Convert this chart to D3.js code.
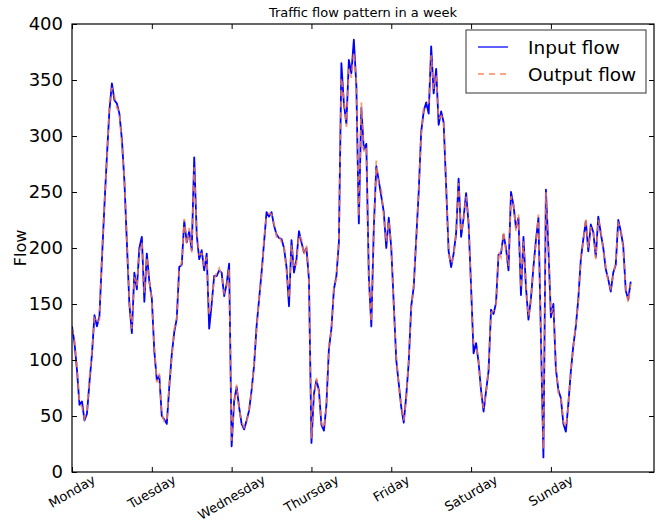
<!DOCTYPE html>
<html>
<head>
<meta charset="utf-8">
<script src="https://cdn.jsdelivr.net/npm/d3@7/dist/d3.min.js"></script>
<style>
  html, body { margin: 0; padding: 0; background: #fff; }
  svg { display: block; }
  text { font-family: "DejaVu Sans", sans-serif; fill: #000; }
</style>
</head>
<body>
<svg id="chart" width="665" height="524"></svg>
<script>
// Traffic flow over one week, one reading every 15 minutes (96 per day),
// stored here every third reading.
const stepsPerDay = 96;
const sampleStep = 3;
const days = ["Monday", "Tuesday", "Wednesday", "Thursday", "Friday", "Saturday", "Sunday"];
const yTicks = [0, 50, 100, 150, 200, 250, 300, 350, 400];

const inputFlow = [
  // Monday
  130, 115, 91, 60, 63, 46, 52, 80, 105, 140, 130, 139, 190, 238, 282, 323,
  347, 332, 329, 320, 297, 260, 205, 150, 124, 178, 163, 200, 210, 152, 195, 170,
  155, 108, 82, 86, 50, 47,
  // Tuesday
  43, 76, 105, 125, 137, 183, 185, 224, 205, 215, 198, 281, 212, 190, 198, 180,
  195, 128, 150, 175, 175, 180, 178, 157, 168, 186, 23, 63, 76, 58, 43, 38,
  46, 55, 73, 95, 130, 154, 178,
  // Wednesday
  205, 232, 228, 232, 220, 212, 209, 208, 200, 183, 148, 207, 178, 190, 215, 205,
  196, 200, 172, 26, 70, 82, 73, 42, 37, 60, 110, 128, 163, 175, 205, 365,
  329, 311, 368, 356, 386, 345,
  // Thursday
  222, 325, 288, 293, 175, 130, 218, 273, 260, 246, 232, 200, 227, 200, 150, 100,
  79, 58, 44, 68, 98, 148, 165, 208, 250, 304, 322, 330, 320, 380, 338, 360,
  310, 322, 312, 255, 197, 183,
  // Friday
  195, 213, 262, 210, 227, 249, 222, 165, 106, 115, 98, 73, 54, 72, 90, 145,
  141, 151, 194, 195, 212, 200, 180, 250, 238, 218, 227, 158, 210, 165, 136, 155,
  183, 207, 227, 120, 13, 252,
  // Saturday / Sunday
  200, 138, 150, 92, 73, 66, 43, 36, 61, 90, 113, 130, 155, 190, 208, 224,
  197, 221, 214, 192, 228, 213, 200, 181, 172, 161, 178, 185, 225, 215, 202, 162,
  154, 170
];

const outputFlow = [
  // Monday
  128, 118, 95, 62, 58, 48, 55, 84, 108, 137, 133, 136, 195, 240, 278, 330,
  343, 336, 325, 322, 292, 262, 208, 152, 128, 174, 166, 196, 205, 160, 192, 172,
  152, 112, 80, 88, 52, 45,
  // Tuesday
  45, 79, 102, 128, 135, 180, 188, 226, 203, 218, 196, 272, 216, 194, 195, 184,
  192, 140, 154, 172, 178, 182, 175, 160, 165, 182, 28, 60, 78, 56, 45, 40,
  44, 57, 70, 98, 127, 156, 175,
  // Wednesday
  208, 229, 231, 230, 222, 210, 212, 205, 202, 180, 155, 203, 182, 186, 212, 208,
  193, 203, 170, 30, 66, 84, 71, 44, 39, 57, 114, 125, 166, 172, 208, 352,
  333, 308, 360, 352, 375, 348,
  // Thursday
  228, 330, 285, 288, 170, 134, 214, 278, 256, 252, 228, 205, 224, 203, 146, 104,
  76, 60, 46, 65, 101, 145, 168, 205, 252, 300, 325, 328, 330, 372, 342, 355,
  315, 318, 315, 258, 194, 186,
  // Friday
  192, 216, 258, 214, 224, 246, 225, 162, 115, 112, 101, 70, 57, 70, 93, 142,
  144, 148, 197, 192, 215, 197, 184, 246, 241, 215, 230, 164, 206, 168, 139, 152,
  186, 204, 230, 125, 20, 250,
  // Saturday / Sunday
  203, 142, 147, 95, 70, 68, 45, 40, 58, 93, 110, 133, 152, 193, 205, 227,
  200, 218, 217, 190, 225, 216, 197, 184, 169, 164, 175, 188, 222, 218, 199, 165,
  151, 168
];

const svg = d3.select("#chart");
const margin = { left: 72, right: 11, top: 24, bottom: 52 };
const W = 665, H = 524;
const x0 = margin.left, x1 = W - margin.right;
const y0 = H - margin.bottom, y1 = margin.top;

const x = d3.scaleLinear().domain([0, 700]).range([x0, x1]);
const y = d3.scaleLinear().domain([0, 400]).range([y0, y1]);

const dayTicks = days.map((d, i) => i * stepsPerDay);

// clip the series to the plot area
svg.append("defs").append("clipPath").attr("id", "plotClip")
  .append("rect").attr("x", x0).attr("y", y1).attr("width", x1 - x0).attr("height", y0 - y1);

const line = d3.line()
  .x((d, i) => x(i * sampleStep))
  .y(d => y(d));

const plot = svg.append("g").attr("clip-path", "url(#plotClip)");

plot.append("path")
  .datum(inputFlow)
  .attr("fill", "none")
  .attr("stroke", "#0000ff")
  .attr("stroke-width", 1.8)
  .attr("stroke-linejoin", "round")
  .attr("d", line);

plot.append("path")
  .datum(outputFlow)
  .attr("fill", "none")
  .attr("stroke", "#ff7f50")
  .attr("stroke-opacity", 0.8)
  .attr("stroke-width", 1.8)
  .attr("stroke-dasharray", "6,5")
  .attr("d", line);

// Axes: ticks point inward on all four sides
const tickLen = 5;
const axisBottom = svg.append("g").attr("transform", `translate(0,${y0})`)
  .call(d3.axisBottom(x).tickValues(dayTicks).tickSize(-tickLen).tickFormat(""));
const axisTop = svg.append("g").attr("transform", `translate(0,${y1})`)
  .call(d3.axisTop(x).tickValues(dayTicks).tickSize(-tickLen).tickFormat(""));
const axisLeft = svg.append("g").attr("transform", `translate(${x0},0)`)
  .call(d3.axisLeft(y).tickValues(yTicks).tickSize(-tickLen).tickPadding(9).tickFormat(d3.format("d")));
const axisRight = svg.append("g").attr("transform", `translate(${x1},0)`)
  .call(d3.axisRight(y).tickValues(yTicks).tickSize(-tickLen).tickFormat(""));

[axisBottom, axisTop, axisLeft, axisRight].forEach(g => {
  g.select(".domain").remove();
  g.selectAll(".tick line").attr("stroke", "#000").attr("stroke-width", 1);
});
axisLeft.selectAll(".tick text")
  .attr("font-size", 18)
  .attr("font-family", "DejaVu Sans")
  .attr("fill", "#000");

// Rotated day labels: centred on the tick, top of the rotated box just below the axis
const labelSize = 13;
const labelTop = y0 + 1;
const angle = 30 * Math.PI / 180;
const dayLabels = svg.append("g").selectAll("text")
  .data(days)
  .join("text")
  .attr("text-anchor", "middle")
  .attr("dominant-baseline", "central")
  .attr("font-size", labelSize)
  .text(d => d);
dayLabels.each(function (d, i) {
  const len = this.getComputedTextLength();
  const boxH = len * Math.sin(angle) + labelSize * Math.cos(angle);
  d3.select(this).attr("transform",
    `translate(${x(dayTicks[i])},${labelTop + boxH / 2}) rotate(-30)`);
});

// Frame
svg.append("rect")
  .attr("x", x0).attr("y", y1)
  .attr("width", x1 - x0).attr("height", y0 - y1)
  .attr("fill", "none").attr("stroke", "#000").attr("stroke-width", 1.2);

// Title and axis label
svg.append("text")
  .attr("x", (x0 + x1) / 2).attr("y", 17)
  .attr("text-anchor", "middle")
  .attr("font-size", 13)
  .text("Traffic flow pattern in a week");

svg.append("text")
  .attr("transform", `translate(26,${(y0 + y1) / 2}) rotate(-90)`)
  .attr("text-anchor", "middle")
  .attr("font-size", 16)
  .text("Flow");

// Legend
const legend = svg.append("g").attr("transform", "translate(466,30)");
legend.append("rect")
  .attr("width", 180).attr("height", 63)
  .attr("fill", "#fff").attr("stroke", "#333").attr("stroke-width", 1);
const entries = [
  { label: "Input flow", color: "#0000ff", opacity: 0.7, dash: null },
  { label: "Output flow", color: "#ff7f50", opacity: 0.7, dash: "6,5" }
];
entries.forEach((e, i) => {
  const ly = 17 + i * 27;
  legend.append("line")
    .attr("x1", 12).attr("x2", 42).attr("y1", ly).attr("y2", ly)
    .attr("stroke", e.color).attr("stroke-opacity", e.opacity)
    .attr("stroke-width", 1.8)
    .attr("stroke-dasharray", e.dash);
  legend.append("text")
    .attr("x", 62).attr("y", ly)
    .attr("dominant-baseline", "central")
    .attr("font-size", 18.5)
    .text(e.label);
});
</script>
</body>
</html>
